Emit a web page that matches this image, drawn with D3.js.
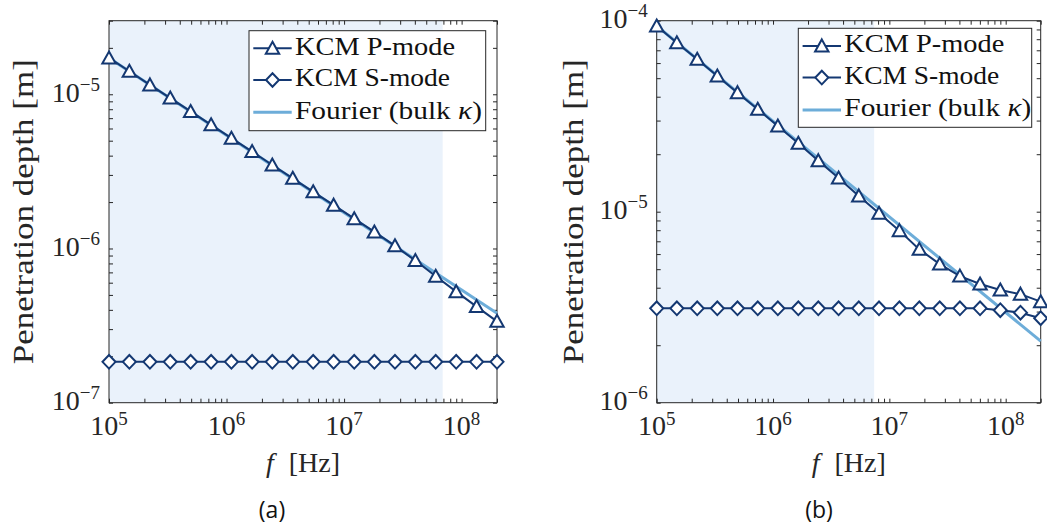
<!DOCTYPE html>
<html>
<head>
<meta charset="utf-8">
<script src="https://cdn.jsdelivr.net/npm/d3@7"></script>
<style>
  body { margin: 0; background: #fff; }
  svg text { font-family: "Liberation Serif", serif; fill: #262626; }
</style>
</head>
<body>
<svg id="chart" width="1047" height="528"></svg>
<script>
// frequencies of the KCM points [Hz]
var freq = [1.00e5, 1.49e5, 2.23e5, 3.32e5, 4.95e5, 7.39e5, 1.10e6, 1.65e6, 2.45e6, 3.66e6,
            5.46e6, 8.15e6, 1.22e7, 1.81e7, 2.71e7, 4.04e7, 6.02e7, 8.99e7, 1.34e8, 2.00e8];

// panel (a)
var pModeA = [1.72e-5, 1.41e-5, 1.15e-5, 9.45e-6, 7.74e-6, 6.34e-6, 5.19e-6, 4.25e-6, 3.48e-6, 2.85e-6,
              2.33e-6, 1.91e-6, 1.56e-6, 1.28e-6, 1.04e-6, 8.35e-7, 6.60e-7, 5.25e-7, 4.20e-7, 3.37e-7];
var sModeA = [1.84e-7, 1.84e-7, 1.84e-7, 1.84e-7, 1.84e-7, 1.84e-7, 1.84e-7, 1.84e-7, 1.84e-7, 1.84e-7,
              1.84e-7, 1.84e-7, 1.84e-7, 1.84e-7, 1.84e-7, 1.84e-7, 1.84e-7, 1.84e-7, 1.84e-7, 1.84e-7];
var fourierFreq = [1e5, 2e8];
var fourierA = [1.72e-5, 3.80e-7];
var shadeA = 6.9e7;

// panel (b)
var pModeB = [9.38e-5, 7.67e-5, 6.28e-5, 5.13e-5, 4.20e-5, 3.44e-5, 2.81e-5, 2.28e-5, 1.85e-5, 1.50e-5,
              1.21e-5, 9.81e-6, 7.96e-6, 6.35e-6, 5.32e-6, 4.60e-6, 4.18e-6, 3.89e-6, 3.70e-6, 3.38e-6];
var sModeB = [3.12e-6, 3.12e-6, 3.12e-6, 3.12e-6, 3.12e-6, 3.12e-6, 3.12e-6, 3.12e-6, 3.12e-6, 3.12e-6,
              3.12e-6, 3.12e-6, 3.12e-6, 3.12e-6, 3.12e-6, 3.12e-6, 3.12e-6, 3.05e-6, 2.96e-6, 2.77e-6];
var fourierB = [9.40e-5, 2.10e-6];
var shadeB = 7.4e6;

var xDomain = [1e5, 2e8];
var xTickExps = [5, 6, 7, 8];
var yTickExpsA = [-7, -6, -5];
var yTickExpsB = [-6, -5, -4];
var legendNames = ["KCM P-mode", "KCM S-mode", "Fourier (bulk \u03ba)"];

var navy = "#143872";
var lightBlue = "#6DADD9";
var shadeColor = "#EAF2FB";
var axisColor = "#262626";
var serif = "'Liberation Serif', serif";

var plotTop = 20.7, plotBottom = 402.7;

var svg = d3.select("#chart");

function powLabel(sel, exp, rise) {
  sel.style("font-family", serif);
  sel.append("tspan").attr("font-size", 28).text("10");
  sel.append("tspan").attr("font-size", 19).attr("dy", -rise)
    .text(exp < 0 ? "\u2212" + (-exp) : "" + exp);
}

function triangle() {
  return "M0,-6.5L6.7,5.5L-6.7,5.5Z";
}
function diamond() {
  return "M0,-6.8L6.5,0L0,6.8L-6.5,0Z";
}

function drawPanel(p) {
  var x = d3.scaleLog().domain(xDomain).range([p.left, p.right]);
  var y = d3.scaleLog().domain(p.yDomain).range([plotBottom, plotTop]);
  var g = svg.append("g");

  /* shaded band */
  g.append("rect")
    .attr("x", x(xDomain[0])).attr("y", plotTop)
    .attr("width", x(p.shade) - x(xDomain[0]))
    .attr("height", plotBottom - plotTop)
    .attr("fill", shadeColor);

  /* ticks on all four sides, pointing in */
  var tk = 4;
  var axes = [
    d3.axisBottom(x).tickValues(x.ticks()).tickSizeInner(-tk),
    d3.axisTop(x).tickValues(x.ticks()).tickSizeInner(-tk),
    d3.axisLeft(y).tickValues(y.ticks()).tickSizeInner(-tk),
    d3.axisRight(y).tickValues(y.ticks()).tickSizeInner(-tk)
  ];
  var shifts = ["translate(0," + plotBottom + ")", "translate(0," + plotTop + ")",
                "translate(" + p.left + ",0)", "translate(" + p.right + ",0)"];
  axes.forEach(function(ax, i) {
    var a = g.append("g").attr("transform", shifts[i])
      .call(ax.tickSizeOuter(0).tickFormat(""));
    a.select(".domain").remove();
    a.selectAll("line").attr("stroke", axisColor);
  });

  g.append("rect")
    .attr("x", p.left).attr("y", plotTop)
    .attr("width", p.right - p.left).attr("height", plotBottom - plotTop)
    .attr("fill", "none").attr("stroke", axisColor).attr("stroke-width", 1);

  /* tick labels */
  xTickExps.forEach(function(e) {
    var t = g.append("text").attr("x", x(Math.pow(10, e))).attr("y", 435)
      .attr("text-anchor", "middle");
    powLabel(t, e, 10);
  });
  p.yTicks.forEach(function(e) {
    var t = g.append("text").attr("x", p.left - 9).attr("y", y(Math.pow(10, e)) + 7.5)
      .attr("text-anchor", "end");
    powLabel(t, e, 11);
  });

  /* axis labels */
  var xl = g.append("text").attr("x", (p.left + p.right) / 2).attr("y", 472)
    .attr("text-anchor", "middle").attr("font-size", 28).style("font-family", serif);
  xl.append("tspan").attr("font-style", "italic").text("f");
  xl.append("tspan").attr("dx", 8).text(" [Hz]");

  g.append("text")
    .attr("transform", "translate(" + p.yLabelX + "," + ((plotTop + plotBottom) / 2) + ") rotate(-90)")
    .attr("text-anchor", "middle").attr("font-size", 30).style("font-family", serif)
    .attr("textLength", 305).attr("lengthAdjust", "spacingAndGlyphs")
    .text("Penetration depth [m]");

  /* data */
  var line = d3.line().x(function(d) { return x(d[0]); }).y(function(d) { return y(d[1]); });

  g.append("path")
    .attr("d", line(d3.zip(fourierFreq, p.fourier)))
    .attr("fill", "none").attr("stroke", lightBlue).attr("stroke-width", 3);

  [[p.pMode, triangle], [p.sMode, diamond]].forEach(function(s) {
    var pts = d3.zip(freq, s[0]);
    g.append("path").attr("d", line(pts))
      .attr("fill", "none").attr("stroke", navy).attr("stroke-width", 2);
    g.selectAll(null).data(pts).enter().append("path")
      .attr("transform", function(d) { return "translate(" + x(d[0]) + "," + y(d[1]) + ")"; })
      .attr("d", s[1]())
      .attr("fill", "#fff").attr("stroke", navy).attr("stroke-width", 2);
  });

  /* legend */
  var L = p.legend;
  var lg = g.append("g").attr("transform", "translate(" + L.x + "," + L.y + ")");
  lg.append("rect").attr("width", L.w).attr("height", L.h)
    .attr("fill", "#fff").attr("stroke", axisColor).attr("stroke-width", 1);
  var rows = [17.6, 49.3, 81.6];
  var lens = [160, 155, 187];
  rows.forEach(function(ry, i) {
    lg.append("line").attr("x1", 4.3).attr("x2", 42.7).attr("y1", ry).attr("y2", ry)
      .attr("stroke", i < 2 ? navy : lightBlue).attr("stroke-width", i < 2 ? 2 : 3);
    if (i < 2) {
      lg.append("path").attr("transform", "translate(23.5," + ry + ")")
        .attr("d", i == 0 ? triangle() : diamond())
        .attr("fill", "#fff").attr("stroke", navy).attr("stroke-width", 2);
    }
    var t = lg.append("text").attr("x", 46).attr("y", ry + 6.3).attr("font-size", 26)
      .attr("textLength", lens[i]).attr("lengthAdjust", "spacingAndGlyphs")
      .style("font-family", serif).style("fill", "#111");
    if (i == 2) {
      t.append("tspan").text("Fourier (bulk ");
      t.append("tspan").attr("font-style", "italic").text("\u03ba");
      t.append("tspan").text(")");
    } else {
      t.text(legendNames[i]);
    }
  });

  /* caption */
  svg.append("text").attr("x", p.captionX).attr("y", 518).attr("text-anchor", "middle")
    .style("font-family", "'Open Sans', sans-serif").attr("font-size", 23)
    .style("fill", "#111").text(p.caption);
}

drawPanel({
  left: 109, right: 497, yDomain: [1e-7, 3e-5], yTicks: yTickExpsA,
  shade: shadeA, pMode: pModeA, sMode: sModeA, fourier: fourierA,
  yLabelX: 33, captionX: 272, caption: "(a)",
  legend: { x: 249, y: 30.7, w: 236.7, h: 100 }
});
drawPanel({
  left: 656.7, right: 1040.7, yDomain: [1e-6, 1e-4], yTicks: yTickExpsB,
  shade: shadeB, pMode: pModeB, sMode: sModeB, fourier: fourierB,
  yLabelX: 583, captionX: 819, caption: "(b)",
  legend: { x: 798.3, y: 28.3, w: 233.4, h: 99 }
});
</script>
</body>
</html>
